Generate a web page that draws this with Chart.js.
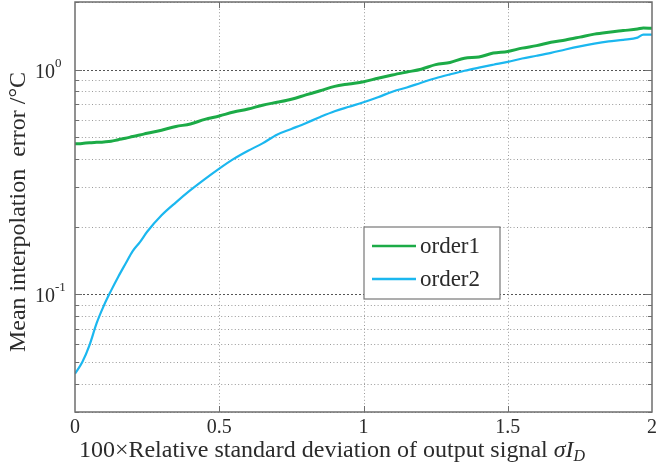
<!DOCTYPE html>
<html>
<head>
<meta charset="utf-8">
<script src="https://cdn.jsdelivr.net/npm/chart.js@4.4.0/dist/chart.umd.min.js"></script>
<style>
    body { margin: 0; background: #fff; }
    #wrap { width: 656px; height: 468px; }
</style>
</head>
<body>
<div id="wrap"><canvas id="myChart"></canvas></div>
<script>
// values
const xValues = [0, 0.025, 0.05, 0.075, 0.1, 0.125, 0.15, 0.175, 0.2, 0.225, 0.25, 0.3, 0.35, 0.4, 0.45,
    0.5, 0.55, 0.6, 0.65, 0.7, 0.75, 0.8, 0.85, 0.9, 0.95,
    1, 1.05, 1.1, 1.15, 1.2, 1.25, 1.3, 1.35, 1.4, 1.45,
    1.5, 1.55, 1.6, 1.65, 1.7, 1.75, 1.8, 1.85, 1.9, 1.95, 1.97, 2];
const order1 = [0.468, 0.470, 0.473, 0.475, 0.477, 0.480, 0.488, 0.495, 0.504, 0.512, 0.521, 0.538, 0.559, 0.573, 0.601,
    0.622, 0.648, 0.668, 0.695, 0.716, 0.739, 0.772, 0.806, 0.843, 0.864,
    0.884, 0.916, 0.947, 0.976, 1.005, 1.053, 1.077, 1.125, 1.139, 1.185,
    1.205, 1.247, 1.279, 1.325, 1.356, 1.396, 1.439, 1.468, 1.492, 1.516, 1.534, 1.527];
const order2 = [0.0444, 0.0499, 0.0594, 0.0745, 0.0892, 0.104, 0.120, 0.137, 0.156, 0.171, 0.190, 0.225, 0.257, 0.291, 0.326,
    0.363, 0.401, 0.436, 0.470, 0.514, 0.545, 0.578, 0.616, 0.653, 0.684,
    0.716, 0.754, 0.798, 0.833, 0.875, 0.916, 0.953, 0.989, 1.021, 1.052,
    1.083, 1.121, 1.153, 1.188, 1.230, 1.270, 1.306, 1.336, 1.358, 1.389, 1.432, 1.432];
const seriesNames = ['order1', 'order2'];

const xTicks = [0, 0.5, 1, 1.5, 2];
const yGridValues = [0.03, 0.04, 0.05, 0.06, 0.07, 0.08, 0.09,
    0.1, 0.2, 0.3, 0.4, 0.5, 0.6, 0.7, 0.8, 0.9, 1, 2];
const yLabelTicks = [0.1, 1];
const yLabelExp = ['-1', '0'];
const yMin = 0.03;
const yMax = 2;

const xTitle = '100\u00d7Relative standard deviation of output signal ';
const yTitle = 'Mean interpolation  error /\u00b0C';

const serif = '"Liberation Serif", "DejaVu Serif", serif';
const textColor = '#2b2b2b';

const ctx = document.getElementById('myChart').getContext('2d');

function line(c, x1, y1, x2, y2) {
    c.beginPath();
    c.moveTo(x1, y1);
    c.lineTo(x2, y2);
    c.stroke();
}

let decorPlugin = {
    id: 'decor',
    beforeDatasetsDraw(chart) {
        const c = chart.ctx;
        const a = chart.chartArea;
        const x = chart.scales.x;
        const y = chart.scales.y;
        c.save();
        c.lineWidth = 1;
        for (let v of yGridValues) {
            const py = Math.round(y.getPixelForValue(v)) + 0.5;
            const major = yLabelTicks.includes(v);
            c.strokeStyle = major ? '#555' : '#9a9a9a';
            c.setLineDash(major ? [2, 2] : [1, 2.4]);
            line(c, a.left, py, a.right, py);
        }
        c.strokeStyle = '#9a9a9a';
        c.setLineDash([1, 2.4]);
        for (let v of xTicks.slice(1, -1)) {
            const px = Math.round(x.getPixelForValue(v)) + 0.5;
            line(c, px, a.top, px, a.bottom);
        }
        c.restore();
    },
    afterDraw(chart) {
        const c = chart.ctx;
        const a = chart.chartArea;
        const x = chart.scales.x;
        const y = chart.scales.y;
        c.save();

        // frame and inner tick marks
        c.strokeStyle = '#6e6e6e';
        c.lineWidth = 1.5;
        c.strokeRect(a.left, a.top, a.right - a.left, a.bottom - a.top);
        c.lineWidth = 1;
        for (let v of yGridValues) {
            const py = Math.round(y.getPixelForValue(v)) + 0.5;
            const len = yLabelTicks.includes(v) ? 7 : 4;
            line(c, a.left, py, a.left + len, py);
            line(c, a.right - len, py, a.right, py);
        }
        for (let v of xTicks.slice(1, -1)) {
            const px = Math.round(x.getPixelForValue(v)) + 0.5;
            line(c, px, a.bottom, px, a.bottom - 6);
            line(c, px, a.top, px, a.top + 6);
        }

        // y tick labels 10^n
        c.fillStyle = textColor;
        c.textBaseline = 'alphabetic';
        yLabelTicks.forEach((v, i) => {
            const py = y.getPixelForValue(v);
            c.font = '20px ' + serif;
            c.textAlign = 'right';
            c.fillText('10', a.left - 20, py + 8);
            c.font = '13px ' + serif;
            c.textAlign = 'left';
            c.fillText(yLabelExp[i], a.left - 20, py - 3);
        });

        // x title with italic sigma I_D
        const parts = [
            { t: xTitle, f: '24px ' + serif, dy: 0 },
            { t: '\u03c3I', f: 'italic 24px ' + serif, dy: 0 },
            { t: 'D', f: 'italic 16px ' + serif, dy: 4 },
        ];
        let total = 0;
        for (let p of parts) {
            c.font = p.f;
            p.w = c.measureText(p.t).width;
            total += p.w;
        }
        let px = 332 - total / 2;
        c.textAlign = 'left';
        for (let p of parts) {
            c.font = p.f;
            c.fillText(p.t, px, 457 + p.dy);
            px += p.w;
        }

        // y title
        c.save();
        c.translate(25, (a.top + a.bottom) / 2 + 5);
        c.rotate(-Math.PI / 2);
        c.textAlign = 'center';
        c.font = '24px ' + serif;
        c.fillText(yTitle, 0, 0);
        c.restore();

        // legend box
        const lx = 364, ly = 227, lw = 136, lh = 72;
        c.fillStyle = '#fff';
        c.fillRect(lx, ly, lw, lh);
        c.strokeStyle = '#777';
        c.lineWidth = 1.2;
        c.strokeRect(lx, ly, lw, lh);
        chart.data.datasets.forEach((ds, i) => {
            const cy = ly + 19 + i * 33;
            c.strokeStyle = ds.borderColor;
            c.lineWidth = 2.5;
            line(c, lx + 8, cy, lx + 52, cy);
            c.fillStyle = textColor;
            c.font = '23px ' + serif;
            c.textAlign = 'left';
            c.fillText(ds.label, lx + 56, cy + 7);
        });
        c.restore();
    }
};

let datasets = [
    {
        label: seriesNames[0],
        data: xValues.map((v, i) => ({ x: v, y: order1[i] })),
        borderColor: '#1cab47',
        borderWidth: 3,
    },
    {
        label: seriesNames[1],
        data: xValues.map((v, i) => ({ x: v, y: order2[i] })),
        borderColor: '#1bb7ef',
        borderWidth: 2.2,
    },
];
for (let ds of datasets) {
    ds.pointRadius = 0;
    ds.fill = false;
    ds.cubicInterpolationMode = 'monotone';
}

const config = {
    type: 'line',
    data: { datasets: datasets },
    options: {
        responsive: true,
        maintainAspectRatio: false,
        animation: false,
        layout: { padding: { top: 2, right: 4, left: 0, bottom: 0 } },
        plugins: {
            legend: { display: false },
            tooltip: { enabled: false },
        },
        scales: {
            x: {
                type: 'linear',
                min: 0,
                max: 2,
                afterBuildTicks: (s) => { s.ticks = xTicks.map(v => ({ value: v })); },
                afterFit: (s) => { s.height = 56; s.paddingLeft = 0; s.paddingRight = 0; },
                grid: { display: false, drawTicks: false },
                border: { display: false },
                ticks: {
                    autoSkip: false,
                    maxRotation: 0,
                    padding: 4,
                    color: textColor,
                    font: { family: serif, size: 20 },
                    callback: (v) => String(v),
                },
            },
            y: {
                type: 'logarithmic',
                min: yMin,
                max: yMax,
                afterBuildTicks: (s) => { s.ticks = yGridValues.map(v => ({ value: v })); },
                afterFit: (s) => { s.width = 75; },
                grid: { display: false, drawTicks: false },
                border: { display: false },
                ticks: { display: false },
            },
        },
    },
    plugins: [decorPlugin],
};

const chart = new Chart(ctx, config);
</script>
</body>
</html>
